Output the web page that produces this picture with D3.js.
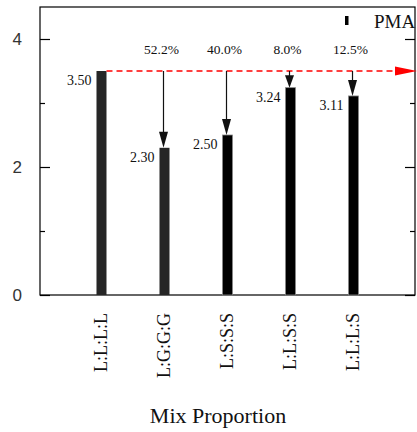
<!DOCTYPE html>
<html>
<head>
<meta charset="utf-8">
<script src="https://cdn.jsdelivr.net/npm/d3@7/dist/d3.min.js"></script>
<style>
  html, body { margin: 0; padding: 0; background: #fff; }
  svg { display: block; }
</style>
</head>
<body>
<svg id="chart" width="417" height="432"></svg>
<script>
// Compressive strength per mix proportion, with PMA
const categories = ["L:L:L:L", "L:G:G:G", "L:S:S:S", "L:L:S:S", "L:L:L:S"];
const values = [3.50, 2.30, 2.50, 3.24, 3.11];
const reductions = [null, 52.2, 40.0, 8.0, 12.5];   // % drop relative to L:L:L:L
const barFills = ["#262626", "#262626", "#000", "#000", "#000"];
const yMajorTicks = [0, 2, 4];
const yMinorTicks = [1, 3];
const seriesName = "PMA";
const xTitle = "Mix Proportion";

const svg = d3.select("#chart");
const plotLeft = 40, plotRight = 415, plotTop = 7, plotBottom = 295;

const x = d3.scalePoint().domain(categories).range([plotLeft, plotRight]).padding(0.976);
const y = d3.scaleLinear().domain([0, 4.5]).range([plotBottom, plotTop]);
const barW = 10;

// Frame around the plot area
svg.append("rect")
  .attr("x", plotLeft).attr("y", plotTop)
  .attr("width", plotRight - plotLeft).attr("height", plotBottom - plotTop)
  .attr("fill", "none").attr("stroke", "#000").attr("stroke-width", 1.2);

// Inward ticks on left and right sides
const leftAxis = d3.axisLeft(y).tickValues(yMajorTicks).tickSizeInner(-10).tickSizeOuter(0).tickPadding(18)
  .tickFormat(d3.format("d"));
const gL = svg.append("g").attr("transform", `translate(${plotLeft},0)`).call(leftAxis);
gL.select(".domain").remove();
gL.selectAll(".tick line").attr("stroke", "#000").attr("stroke-width", 1.2);
gL.selectAll(".tick text")
  .attr("font-family", "'Liberation Sans', Arial, sans-serif")
  .attr("font-size", 17).attr("fill", "#333");

const gLm = svg.append("g").attr("transform", `translate(${plotLeft},0)`)
  .call(d3.axisLeft(y).tickValues(yMinorTicks).tickSizeInner(-5).tickSizeOuter(0).tickFormat(""));
gLm.select(".domain").remove();
gLm.selectAll(".tick line").attr("stroke", "#000").attr("stroke-width", 1.2);

const gR = svg.append("g").attr("transform", `translate(${plotRight},0)`)
  .call(d3.axisRight(y).tickValues(yMajorTicks).tickSizeInner(-10).tickSizeOuter(0).tickFormat(""));
gR.select(".domain").remove();
gR.selectAll(".tick line").attr("stroke", "#000").attr("stroke-width", 1.2);
const gRm = svg.append("g").attr("transform", `translate(${plotRight},0)`)
  .call(d3.axisRight(y).tickValues(yMinorTicks).tickSizeInner(-5).tickSizeOuter(0).tickFormat(""));
gRm.select(".domain").remove();
gRm.selectAll(".tick line").attr("stroke", "#000").attr("stroke-width", 1.2);

// Category labels, rotated
const gX = svg.append("g").attr("transform", `translate(0,${plotBottom})`)
  .call(d3.axisBottom(x).tickSize(0).tickPadding(0));
gX.select(".domain").remove();
gX.selectAll(".tick text")
  .attr("font-family", "'Liberation Serif', 'Times New Roman', serif")
  .attr("font-size", 18).attr("fill", "#111")
  .attr("text-anchor", "end")
  .attr("transform", "translate(-1,18) rotate(-90)")
  .attr("x", 0).attr("y", 0).attr("dy", "0.35em");

// Bars
svg.append("g").selectAll("rect").data(values).join("rect")
  .attr("x", (d, i) => x(categories[i]) - barW / 2)
  .attr("y", d => y(d))
  .attr("width", barW)
  .attr("height", d => y(0) - y(d))
  .attr("fill", (d, i) => barFills[i])
  .attr("stroke", (d, i) => i >= 2 ? "#888" : "none")
  .attr("stroke-width", 0.8);

// Value labels left of each bar
svg.append("g").selectAll("text").data(values).join("text")
  .attr("x", (d, i) => x(categories[i]) - barW / 2 - 5)
  .attr("y", d => y(d) + 14)
  .attr("text-anchor", "end")
  .attr("font-family", "'Liberation Serif', 'Times New Roman', serif")
  .attr("font-size", 14).attr("fill", "#111")
  .text(d => d.toFixed(2));

// Reference level of the L:L:L:L mix: red dashed line with arrowhead
const refY = y(values[0]);
const refX0 = x(categories[0]) + barW / 2;
svg.append("line")
  .attr("x1", refX0).attr("x2", plotRight - 18)
  .attr("y1", refY).attr("y2", refY)
  .attr("stroke", "#f00").attr("stroke-width", 1.3)
  .attr("stroke-dasharray", "6,4");
svg.append("path")
  .attr("d", `M${plotRight - 20},${refY - 4.5}L${plotRight + 2},${refY}L${plotRight - 20},${refY + 4.5}Z`)
  .attr("fill", "#f00");

// Drop arrows from reference level down to each bar, with percentage labels
const drops = values.map((v, i) => ({ v, i, r: reductions[i] })).filter(d => d.r !== null);
const gA = svg.append("g");
drops.forEach(d => {
  const cx = x(categories[d.i]) - 1;
  const yEnd = y(d.v);
  const headH = Math.min(16, (yEnd - refY) * 0.75);
  gA.append("line")
    .attr("x1", cx).attr("x2", cx)
    .attr("y1", refY).attr("y2", yEnd - headH + 1)
    .attr("stroke", "#111").attr("stroke-width", 1.2);
  gA.append("path")
    .attr("d", `M${cx - 4.5},${yEnd - headH}L${cx},${yEnd}L${cx + 4.5},${yEnd - headH}Z`)
    .attr("fill", "#111");
  gA.append("text")
    .attr("x", cx - 2).attr("y", 54)
    .attr("text-anchor", "middle")
    .attr("font-family", "'Liberation Serif', 'Times New Roman', serif")
    .attr("font-size", 13.5).attr("fill", "#111")
    .text(d.r.toFixed(1) + "%");
});

// Legend
svg.append("rect").attr("x", 345).attr("y", 16).attr("width", 3.5).attr("height", 9).attr("fill", "#000");
svg.append("text")
  .attr("x", 374).attr("y", 28)
  .attr("font-family", "'Liberation Serif', 'Times New Roman', serif")
  .attr("font-size", 19).attr("fill", "#111")
  .text(seriesName);

// Axis title
svg.append("text")
  .attr("x", 218).attr("y", 423)
  .attr("text-anchor", "middle")
  .attr("font-family", "'Liberation Serif', 'Times New Roman', serif")
  .attr("font-size", 22).attr("fill", "#111")
  .text(xTitle);
</script>
</body>
</html>
